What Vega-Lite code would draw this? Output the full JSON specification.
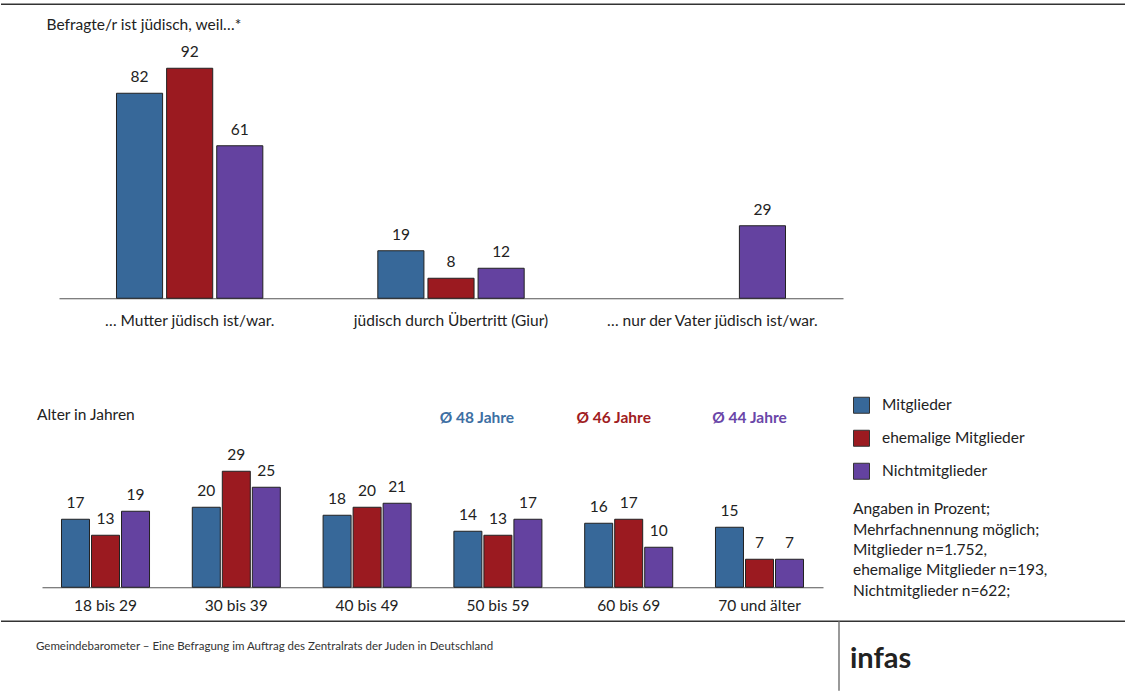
{
  "$schema": "https://vega.github.io/schema/vega-lite/v6.json",
  "padding": {"left": 0, "top": 3.25, "right": 0, "bottom": 0},
  "bounds": "flush",
  "spacing": 34,
  "config": {
    "font": "Lato",
    "view": {"stroke": null},
    "axis": {"labelFont": "Lato", "labelColor": "#222", "labelFontSize": 15.5, "labelAngle": 0, "ticks": false, "domainColor": "#555", "domainWidth": 1.2, "labelLimit": 0, "labelOverlap": false, "title": null, "grid": false}
  },
  "resolve": {"scale": {"x": "independent", "xOffset": "independent", "y": "independent"}, "legend": {"color": "independent"}},
  "datasets": {
    "reasons": [
      {"reason": "… Mutter jüdisch ist/war.", "group": "Mitglieder", "value": 82},
      {"reason": "… Mutter jüdisch ist/war.", "group": "ehemalige Mitglieder", "value": 92},
      {"reason": "… Mutter jüdisch ist/war.", "group": "Nichtmitglieder", "value": 61},
      {"reason": "jüdisch durch Übertritt (Giur)", "group": "Mitglieder", "value": 19},
      {"reason": "jüdisch durch Übertritt (Giur)", "group": "ehemalige Mitglieder", "value": 8},
      {"reason": "jüdisch durch Übertritt (Giur)", "group": "Nichtmitglieder", "value": 12},
      {"reason": "… nur der Vater jüdisch ist/war.", "group": "Nichtmitglieder", "value": 29}
    ],
    "ages": [
      {"age": "18 bis 29", "group": "Mitglieder", "value": 17},
      {"age": "18 bis 29", "group": "ehemalige Mitglieder", "value": 13},
      {"age": "18 bis 29", "group": "Nichtmitglieder", "value": 19},
      {"age": "30 bis 39", "group": "Mitglieder", "value": 20},
      {"age": "30 bis 39", "group": "ehemalige Mitglieder", "value": 29},
      {"age": "30 bis 39", "group": "Nichtmitglieder", "value": 25},
      {"age": "40 bis 49", "group": "Mitglieder", "value": 18},
      {"age": "40 bis 49", "group": "ehemalige Mitglieder", "value": 20},
      {"age": "40 bis 49", "group": "Nichtmitglieder", "value": 21},
      {"age": "50 bis 59", "group": "Mitglieder", "value": 14},
      {"age": "50 bis 59", "group": "ehemalige Mitglieder", "value": 13},
      {"age": "50 bis 59", "group": "Nichtmitglieder", "value": 17},
      {"age": "60 bis 69", "group": "Mitglieder", "value": 16},
      {"age": "60 bis 69", "group": "ehemalige Mitglieder", "value": 17},
      {"age": "60 bis 69", "group": "Nichtmitglieder", "value": 10},
      {"age": "70 und älter", "group": "Mitglieder", "value": 15},
      {"age": "70 und älter", "group": "ehemalige Mitglieder", "value": 7},
      {"age": "70 und älter", "group": "Nichtmitglieder", "value": 7}
    ]
  },
  "vconcat": [
    {
      "width": 1124,
      "height": 294,
      "layer": [
        {
          "data": {"values": [{}]},
          "mark": {"type": "rule", "stroke": "#333", "strokeWidth": 1.5},
          "encoding": {"y": {"datum": 117.6, "type": "quantitative"}}
        },
        {
          "data": {"name": "reasons"},
          "mark": {"type": "bar", "stroke": "#222", "strokeWidth": 1},
          "encoding": {
            "x": {"field": "reason", "type": "nominal", "sort": null,
                  "scale": {"domain": ["… Mutter jüdisch ist/war.", "jüdisch durch Übertritt (Giur)", "… nur der Vater jüdisch ist/war."], "range": [58, 842], "paddingInner": 0.44, "paddingOuter": 0.22},
                  "axis": {"orient": "bottom", "labelPadding": 15}},
            "xOffset": {"field": "group", "type": "nominal", "scale": {"domain": ["Mitglieder", "ehemalige Mitglieder", "Nichtmitglieder"], "paddingInner": 0.08, "paddingOuter": 0}},
            "y": {"field": "value", "type": "quantitative", "scale": {"domain": [0, 117.6], "nice": false}, "axis": null},
            "color": {"field": "group", "type": "nominal", "scale": {"domain": ["Mitglieder", "ehemalige Mitglieder", "Nichtmitglieder"], "range": ["#376899", "#9b1a20", "#6442a0"]}, "legend": null}
          }
        },
        {
          "data": {"name": "reasons"},
          "mark": {"type": "text", "dy": -16, "baseline": "middle", "fontSize": 15.5, "fill": "#222"},
          "encoding": {
            "x": {"field": "reason", "type": "nominal", "sort": null},
            "xOffset": {"field": "group", "type": "nominal"},
            "y": {"field": "value", "type": "quantitative"},
            "text": {"field": "value", "type": "quantitative"}
          }
        },
        {
          "data": {"values": [{"label": "Befragte/r ist jüdisch, weil…*"}]},
          "mark": {"type": "text", "align": "left", "baseline": "middle", "fontSize": 15.5, "fill": "#222", "dx": -70},
          "encoding": {
            "x": {"datum": "… Mutter jüdisch ist/war.", "type": "nominal", "bandPosition": 0},
            "y": {"datum": 109.2, "type": "quantitative"},
            "text": {"field": "label", "type": "nominal"}
          }
        }
      ]
    },
    {
      "width": 1124,
      "height": 255,
      "layer": [
        {
          "data": {"name": "ages"},
          "mark": {"type": "bar", "stroke": "#222", "strokeWidth": 1},
          "encoding": {
            "x": {"field": "age", "type": "nominal", "sort": null,
                  "scale": {"domain": ["18 bis 29", "30 bis 39", "40 bis 49", "50 bis 59", "60 bis 69", "70 und älter"], "range": [41, 822], "paddingInner": 0.327, "paddingOuter": 0.149},
                  "axis": {"orient": "bottom", "labelPadding": 11}},
            "xOffset": {"field": "group", "type": "nominal", "scale": {"domain": ["Mitglieder", "ehemalige Mitglieder", "Nichtmitglieder"], "paddingInner": 0.067, "paddingOuter": 0}},
            "y": {"field": "value", "type": "quantitative", "scale": {"domain": [0, 63.75], "nice": false}, "axis": null},
            "color": {"field": "group", "type": "nominal",
                      "scale": {"domain": ["Mitglieder", "ehemalige Mitglieder", "Nichtmitglieder"], "range": ["#376899", "#9b1a20", "#6442a0"]},
                      "legend": {
                        "orient": "none", "legendX": 852, "legendY": 64.5, "padding": 0,
                        "title": ["Angaben in Prozent;", "Mehrfachnennung möglich;", "Mitglieder n=1.752,", "ehemalige Mitglieder n=193,", "Nichtmitglieder n=622;"],
                        "titleOrient": "bottom", "titleAnchor": "start", "titleAlign": "left", "titleFontSize": 15.5, "titleFontWeight": "normal", "titleFont": "Lato",
                        "titleLineHeight": 20.4, "titlePadding": 20.5, "titleColor": "#222", "titleLimit": 0,
                        "labelFont": "Lato", "labelFontSize": 15.5, "labelColor": "#222", "labelOffset": 12, "labelLimit": 0,
                        "symbolType": "square", "symbolSize": 256, "symbolStrokeColor": "#333", "symbolStrokeWidth": 1, "symbolOpacity": 1,
                        "rowPadding": 12
                      }}
          }
        },
        {
          "data": {"name": "ages"},
          "mark": {"type": "text", "dy": -16, "baseline": "middle", "fontSize": 15.5, "fill": "#222"},
          "encoding": {
            "x": {"field": "age", "type": "nominal", "sort": null},
            "xOffset": {"field": "group", "type": "nominal"},
            "y": {"field": "value", "type": "quantitative"},
            "text": {"field": "value", "type": "quantitative"}
          }
        },
        {
          "data": {"values": [{"label": "Alter in Jahren"}]},
          "mark": {"type": "text", "align": "left", "baseline": "middle", "fontSize": 15.5, "fill": "#222", "dx": -24.5},
          "encoding": {
            "x": {"datum": "18 bis 29", "type": "nominal", "bandPosition": 0},
            "y": {"datum": 43, "type": "quantitative"},
            "text": {"field": "label", "type": "nominal"}
          }
        },
        {
          "data": {"values": [{"age": "50 bis 59", "label": "Ø 48 Jahre"}]},
          "mark": {"type": "text", "align": "center", "baseline": "middle", "fontSize": 15.5, "fontWeight": "bold", "fill": "#3d6fa3", "dx": -21},
          "encoding": {
            "x": {"field": "age", "type": "nominal"},
            "y": {"datum": 42.2, "type": "quantitative"},
            "text": {"field": "label", "type": "nominal"}
          }
        },
        {
          "data": {"values": [{"age": "60 bis 69", "label": "Ø 46 Jahre"}]},
          "mark": {"type": "text", "align": "center", "baseline": "middle", "fontSize": 15.5, "fontWeight": "bold", "fill": "#a01c22", "dx": -15},
          "encoding": {
            "x": {"field": "age", "type": "nominal"},
            "y": {"datum": 42.2, "type": "quantitative"},
            "text": {"field": "label", "type": "nominal"}
          }
        },
        {
          "data": {"values": [{"age": "70 und älter", "label": "Ø 44 Jahre"}]},
          "mark": {"type": "text", "align": "center", "baseline": "middle", "fontSize": 15.5, "fontWeight": "bold", "fill": "#6a46a8", "dx": -10},
          "encoding": {
            "x": {"field": "age", "type": "nominal"},
            "y": {"datum": 42.2, "type": "quantitative"},
            "text": {"field": "label", "type": "nominal"}
          }
        }
      ]
    },
    {
      "width": 1124,
      "height": 70,
      "layer": [
        {
          "data": {"values": [{}]},
          "mark": {"type": "rule", "stroke": "#333", "strokeWidth": 1.5},
          "encoding": {"y": {"datum": 70, "type": "quantitative", "scale": {"domain": [0, 70], "nice": false}, "axis": null}}
        },
        {
          "data": {"values": [{}]},
          "mark": {"type": "rule", "stroke": "#777", "strokeWidth": 1.5},
          "encoding": {
            "x": {"datum": "logo", "type": "nominal", "bandPosition": 0,
                  "scale": {"domain": ["source", "logo"], "range": [35, 1641], "paddingInner": 0, "paddingOuter": 0}, "axis": null},
            "y": {"datum": 0.5, "type": "quantitative"},
            "y2": {"datum": 70}
          }
        },
        {
          "data": {"values": [{"label": "Gemeindebarometer – Eine Befragung im Auftrag des Zentralrats der Juden in Deutschland"}]},
          "mark": {"type": "text", "align": "left", "baseline": "middle", "fontSize": 11.5, "fill": "#333"},
          "encoding": {
            "x": {"datum": "source", "type": "nominal", "bandPosition": 0},
            "y": {"datum": 44, "type": "quantitative"},
            "text": {"field": "label", "type": "nominal"}
          }
        },
        {
          "data": {"values": [{"label": "infas"}]},
          "mark": {"type": "text", "align": "left", "baseline": "alphabetic", "fontSize": 29, "font": "Lato", "fontWeight": "bold", "fill": "#222", "dx": 11},
          "encoding": {
            "x": {"datum": "logo", "type": "nominal", "bandPosition": 0},
            "y": {"datum": 23, "type": "quantitative"},
            "text": {"field": "label", "type": "nominal"}
          }
        }
      ]
    }
  ]
}
